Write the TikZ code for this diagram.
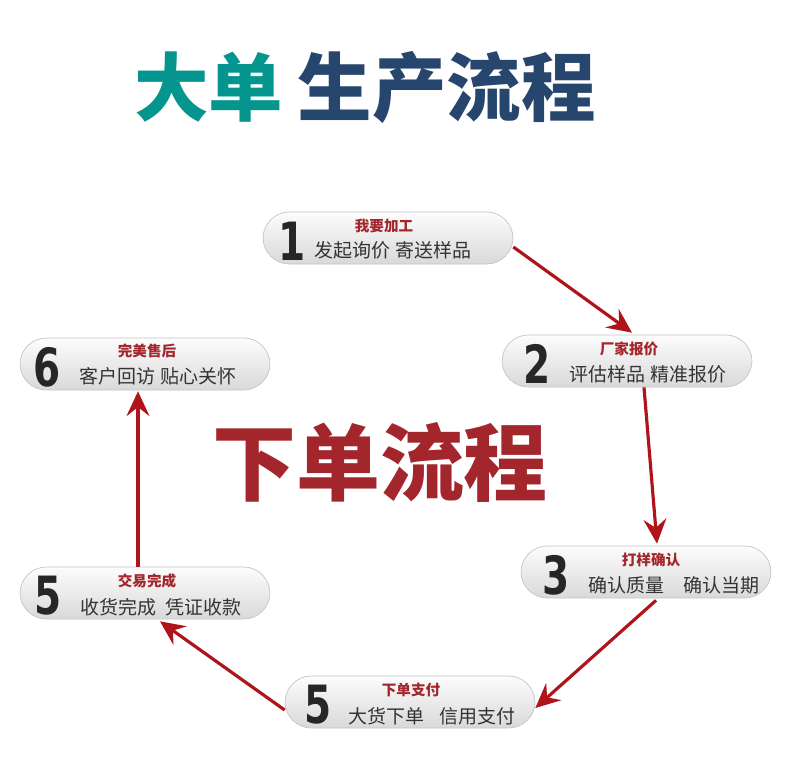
\documentclass[tikz,border=0pt]{standalone}
\usepackage{fontspec}
\usetikzlibrary{calc,arrows.meta}
\newfontfamily\cjk{Noto Sans CJK SC}
\newfontfamily\numfont{DejaVu Sans}
\definecolor{flowred}{HTML}{B0141B}
\definecolor{headred}{HTML}{A3262C}
\definecolor{tealtitle}{HTML}{05958F}
\definecolor{bluetitle}{HTML}{27466E}

\begin{document}
\begin{tikzpicture}[x=0.02cm,y=-0.02cm,
  stepbox/.style={draw=gray!45, rounded corners=15, top color=gray!2, bottom color=gray!30,
    minimum width=250*0.02cm, minimum height=52*0.02cm, inner sep=0},
  numtext/.style={font=\numfont\bfseries\fontsize{30}{30}\selectfont, text=black!85, xscale=0.74, inner sep=0},
  headtext/.style={font=\cjk\bfseries\fontsize{8.3}{9}\selectfont, text=headred, inner sep=0},
  bodytext/.style={font=\cjk\fontsize{10.8}{12}\selectfont, text=black!80, inner sep=0},
  flow/.style={draw=flowred, line width=1.8pt, -{Stealth[length=14pt, width=13pt, inset=5pt]}}]
\useasboundingbox[fill=white] (0,0) rectangle (790,781);

% title
\node[font=\cjk\bfseries\fontsize{42.4}{44}\selectfont, inner sep=0] (title) at (365,88)
  {\textcolor{tealtitle}{大单}\hspace{8pt}\textcolor{bluetitle}{生产流程}};
\node[font=\cjk\bfseries\fontsize{47.8}{50}\selectfont, text=headred, inner sep=0] (center) at (380,462) {下单流程};

% boxes
\node[stepbox] (b1) at (388,238) {};
\node[stepbox] (b2) at (627,361) {};
\node[stepbox] (b3) at (646,572) {};
\node[stepbox] (b4) at (410,702) {};
\node[stepbox] (b5) at (145,593) {};
\node[stepbox] (b6) at (145,364) {};

\node[numtext] (n1) at ($(b1.west)+(29,3)$) {1};
\node[headtext] (h1) at ($(b1)+(-4,-12)$) {我要加工};
\node[bodytext] (t1) at ($(b1)+(5,12)$) {发起询价 寄送样品};

\node[numtext] (n2) at ($(b2.west)+(35,3)$) {2};
\node[headtext] (h2) at ($(b2)+(2,-12)$) {厂家报价};
\node[bodytext] (t2) at ($(b2)+(21,13)$) {评估样品 精准报价};

\node[numtext] (n3) at ($(b3.west)+(35,3)$) {3};
\node[headtext] (h3) at ($(b3)+(5,-12)$) {打样确认};
\node[bodytext] (t3) at ($(b3)+(28,13)$) {确认质量\hspace{1em}确认当期};

\node[numtext] (n4) at ($(b4.west)+(33,3)$) {5};
\node[headtext] (h4) at ($(b4)+(1,-12)$) {下单支付};
\node[bodytext] (t4) at ($(b4)+(22,14)$) {大货下单\hspace{0.75em}信用支付};

\node[numtext] (n5) at ($(b5.west)+(28,3)$) {5};
\node[headtext] (h5) at ($(b5)+(2,-12)$) {交易完成};
\node[bodytext] (t5) at ($(b5)+(16,14)$) {收货完成\hspace{0.5em}凭证收款};

\node[numtext] (n6) at ($(b6.west)+(27,3)$) {6};
\node[headtext] (h6) at ($(b6)+(2,-13)$) {完美售后};
\node[bodytext] (t6) at ($(b6)+(13,12)$) {客户回访 贴心关怀};

% arrows
\draw[flow] ($(b1.east)+(0,9)$) -- ($(b2.north)+(5,-2)$);
\draw[flow] ($(b2.south)+(17,0)$) -- ($(b3.north)+(11,-2)$);
\draw[flow] ($(b3.south)+(10,2)$) -- ($(b4.east)+(0,6)$);
\draw[flow] ($(b4.west)+(0,8)$) -- ($(b5.south)+(15,2)$);
\draw[flow] ($(b5.north)+(-7,0)$) -- ($(b6.south)+(-7,1)$);
\end{tikzpicture}
\end{document}
